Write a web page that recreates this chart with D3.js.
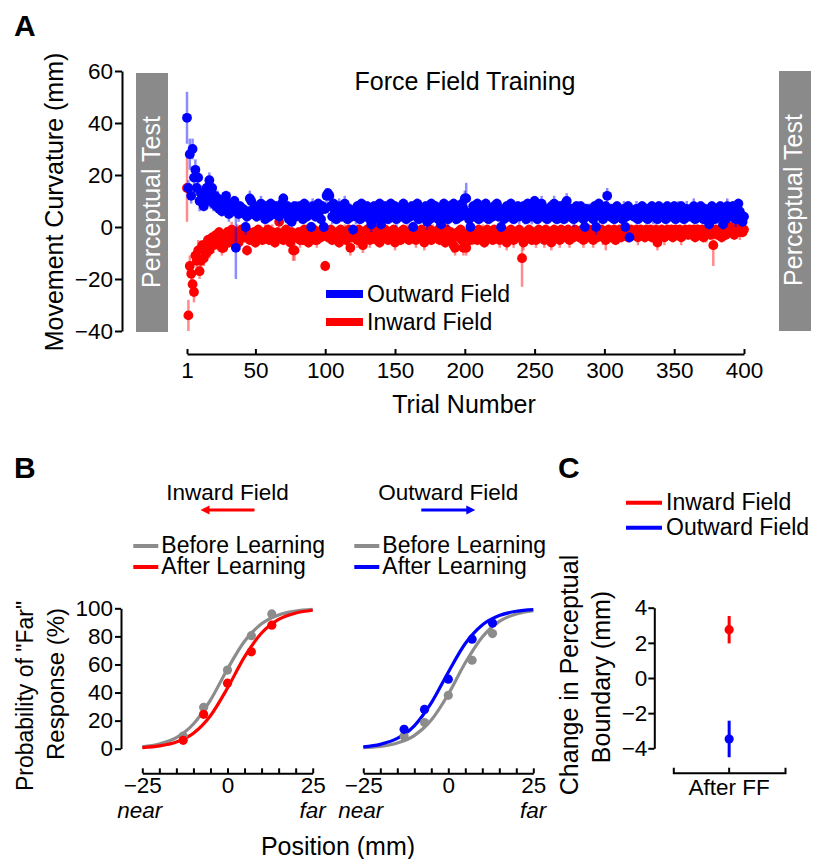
<!DOCTYPE html>
<html>
<head>
<meta charset="utf-8">
<script src="https://cdn.jsdelivr.net/npm/d3@7"></script>
<style>
body { margin: 0; background: #fff; }
svg { display: block; font-family: "Liberation Sans", Arial, sans-serif; }
.axis path, .axis line { stroke: #000; stroke-width: 2; }
.axis text { font-size: 22.5px; fill: #000; font-family: "Liberation Sans", Arial, sans-serif; }
</style>
</head>
<body>
<svg width="820" height="859"></svg>
<script>
// ---- panel A data (trial by trial) ----
let trialTicks = [1, 50, 100, 150, 200, 250, 300, 350, 400]
let curvTicks = [-40, -20, 0, 20, 40, 60]

let outwardCurv = [
  42,15,28,12,30,19,22,15,19,10, 13,11,8,10,15,12,18,10,15,9, 12,8,11,7,9,6,8,10,12,7, 5,9,6,7,10,-8,7,5,8,6,
  7,5,0,4,6,11,10,5,7,6, 4,8,6,9,5,7,3,8,5,4, 9,7,6,5,8,6,4,7,9,11, 6,5,8,3,6,2,5,8,4,7,
  6,8,5,3,9,6,4,7,6,0, 8,5,4,7,9,6,3,8,0,7, 12,13,12,8,4,9,6,3,6,8, 7,4,6,9,5,3,7,6,4,-1,
  6,4,8,5,3,9,7,4,6,8, 5,3,1,6,8,4,6,3,9,1, 6,4,8,5,3,7,9,4,5,8, 3,7,5,4,8,9,6,3,5,7,
  4,8,0,5,7,9,3,6,5,7, 4,8,2,6,3,9,5,4,8,6, 3,5,1,7,9,4,6,3,8,5, 7,9,4,3,8,6,4,9,7,11,
  11,5,3,0,6,8,4,5,9,3, 7,6,4,5,9,7,3,6,5,4, 8,6,9,4,7,0,5,3,6,8, 4,6,9,7,3,5,6,8,4,7,
  5,8,4,3,9,6,7,4,5,10, 6,3,8,5,9,4,6,7,3,5, 7,8,4,9,5,3,6,8,4,6, 3,9,10,6,4,7,5,3,6,8,
  4,6,8,5,3,0,7,5,6,4, 7,3,8,0,6,9,5,4,3,7, 8,12,6,4,7,5,3,6,8,4, 6,5,3,7,0,4,8,-4,5,6,
  4,5,7,3,6,5,8,4,6,7, 3,6,5,8,4,5,7,3,8,6, 5,4,7,3,8,5,6,4,7,8, 3,5,7,4,8,6,3,5,7,4,
  6,4,5,8,3,7,5,4,8,6, 3,7,5,4,1,6,8,5,3,6, 7,4,8,5,1,6,3,8,5,7, 4,8,6,3,5,9,6,4,2,4
]
let outwardErr = [
  10,3,6,3,4,3,4,3,3,4, 3,3,2,3,3,4,3,3,2,3, 3,2,3,2,3,2,3,3,2,2, 3,2,2,3,2,12,2,3,2,2,
  2,2,3,2,2,3,2,2,2,3, 2,2,2,3,2,2,2,2,3,2, 2,3,2,2,2,2,3,2,2,2, 3,2,2,2,3,2,2,2,2,3,
  2,2,3,2,2,2,2,3,2,2, 3,2,2,2,2,3,2,2,2,2, 3,2,2,2,3,2,2,2,2,3, 2,2,2,3,2,2,2,3,2,2,
  2,3,2,2,2,2,3,2,2,2, 2,2,3,2,2,2,2,3,2,2, 2,3,2,2,2,3,2,2,2,2, 3,2,2,2,2,2,3,2,2,2,
  2,2,2,3,2,2,2,2,3,2, 2,2,3,2,2,2,3,2,2,2, 2,3,2,2,2,2,2,3,2,2, 2,2,3,2,2,2,2,2,3,3,
  6,2,2,2,3,2,2,2,2,2, 3,2,2,2,2,3,2,2,2,2, 2,3,2,2,2,2,3,2,2,2, 2,2,2,3,2,2,2,2,3,2,
  2,2,3,2,2,2,2,3,2,2, 2,2,2,2,3,2,2,2,2,3, 2,2,2,3,2,2,2,2,2,3, 2,2,3,2,2,2,2,3,2,2,
  2,3,2,2,2,2,2,2,3,2, 2,2,2,3,2,2,3,2,2,2, 2,3,2,2,2,2,2,3,2,2, 2,2,2,3,2,2,2,2,2,2,
  2,2,3,2,2,2,2,2,3,2, 2,2,2,2,3,2,2,2,2,2, 3,2,2,2,2,2,3,2,2,2, 2,2,3,2,2,2,2,2,3,2,
  2,2,2,3,2,2,2,2,2,3, 2,2,2,2,2,3,2,2,2,2, 2,3,2,2,2,2,2,3,2,2, 2,2,2,3,2,2,2,2,2,2
]
let inwardCurv = [
  15,-34,-15,-18,-22,-25,-11,-13,-9,-17, -13,-7,-12,-8,-10,-5,-9,-6,-4,-7, -5,-3,-6,-2,-4,-8,-8,-5,-3,-2, -6,-4,-1,-3,-5,-4,-2,-6,-3,-1,
  -1,-4,-3,-9,-2,-5,-3,-4,-2,-6, -3,-1,-4,-2,-5,-3,-2,-4,-1,-5, -3,-2,-4,-6,-3,-2,2,-4,-3,-5, -2,-1,-4,-3,-6,-2,-9,-9,-4,-3,
  -2,-5,-3,-5,-1,-4,-2,-6,-3,-2, -4,-1,-5,-5,-3,-2,-4,-1,-3,-15, -2,-4,-3,-1,-5,-2,-3,-4,-2,-6, -1,-3,-4,-2,-5,-3,-1,-8,-4,-2,
  -3,-2,-5,-1,-4,-3,-7,-2,-4,-1, -3,-5,-2,-4,-3,-1,-5,-2,-6,-3, -2,-4,-1,-3,-5,-2,-4,-3,-1,-6, -2,-4,-3,-5,-2,-1,-4,-3,-2,-5,
  -3,-1,-4,-2,-5,-3,-2,-4,-1,-3, -6,-2,-4,-3,-1,-5,-2,-3,-4,-2, -1,-5,-3,-2,-4,-6,-1,-3,-5,-2, -4,-7,-8,-3,-2,-4,-1,-5,-8,-3,
  -8,-3,-2,-5,-1,-4,-3,-2,-5,-1, -3,-4,-2,-6,-3,-1,-4,-2,-3,-5, -1,-4,-2,-3,-5,-2,-1,-4,-3,-6, -2,-3,-1,-4,-5,-2,-3,-4,-1,-2,
  -12,-6,-3,-2,-4,-1,-3,-5,-2,-4, -5,-3,-1,-2,-4,-3,-5,-1,-2,-4, -3,-6,-2,-1,-3,-4,-2,-5,-1,-3, -2,-4,-3,-1,-5,-2,-3,-4,-1,-2,
  -3,-4,-2,-1,-5,-3,-2,-4,-1,-3, -2,-5,-3,-1,-4,-2,-3,-1,-4,-2, -5,-3,-1,-2,-4,-3,-1,-5,-2,-3, -1,-4,-2,-3,-1,-2,-4,-3,-1,-2,
  -2,-3,-1,-4,-2,-1,-3,-2,-4,-1, -3,-2,-1,-4,-2,-3,-1,-6,-2,-3, -1,-2,-4,-3,-1,-2,-3,-1,-4,-2, -1,-3,-2,-1,-4,-2,-3,-1,-2,-3,
  -1,-2,-3,-1,-4,-2,-1,-3,-2,-1, -4,-2,-3,-1,-2,-3,-1,-7,-2,-1, -3,-2,-1,-4,-2,-1,-3,-2,-1,0, -2,-1,-3,-2,-1,0,-2,-1,-2,-1
]
let inwardErr = [
  13,6,4,4,3,4,3,3,4,3, 3,2,3,2,3,2,3,2,2,3, 2,2,3,2,2,3,2,2,3,2, 2,2,3,2,2,2,3,2,2,2,
  2,2,3,2,2,2,2,3,2,2, 3,2,2,2,2,2,3,2,2,2, 2,3,2,2,2,2,2,2,3,2, 2,2,3,2,2,2,4,4,2,2,
  2,3,2,2,2,2,3,2,2,2, 2,2,2,3,2,2,2,2,2,2, 2,2,3,2,2,2,2,3,2,2, 2,2,2,3,2,2,2,3,2,2,
  2,2,3,2,2,2,3,2,2,2, 2,3,2,2,2,2,2,3,2,2, 2,2,2,3,2,2,2,2,2,3, 2,2,3,2,2,2,2,2,3,2,
  2,2,2,2,3,2,2,2,2,2, 3,2,2,2,2,2,3,2,2,2, 2,2,3,2,2,2,3,2,2,2, 2,3,3,2,2,2,2,2,3,2,
  3,2,2,2,2,3,2,2,2,2, 2,2,3,2,2,2,2,2,3,2, 2,2,2,2,3,2,2,2,2,3, 2,2,2,2,3,2,2,2,2,2,
  11,3,2,2,2,2,3,2,2,2, 3,2,2,2,2,2,3,2,2,2, 2,3,2,2,2,2,2,3,2,2, 2,2,2,2,3,2,2,2,2,2,
  2,2,2,2,3,2,2,2,2,2, 2,3,2,2,2,2,2,2,3,2, 4,2,2,2,2,3,2,2,2,2, 2,2,3,2,2,2,2,2,2,2,
  2,2,2,3,2,2,2,2,2,2, 2,2,2,2,2,2,2,3,2,2, 2,2,3,2,2,2,2,2,2,2, 2,2,2,2,3,2,2,2,2,2,
  2,2,2,2,2,3,2,2,2,2, 2,2,3,2,2,2,2,8,2,2, 2,2,2,2,3,2,2,2,2,2, 2,2,2,2,2,2,3,2,2,2
]

// ---- panel B data ----
let posTicks = [-25, -20, -15, -10, -5, 0, 5, 10, 15, 20, 25]
let posLabelled = [-25, 0, 25]
let probTicks = [0, 20, 40, 60, 80, 100]
let stimPos = [-13, -7, 0, 7, 13]
let inBefore = [9, 29.5, 56, 80.5, 96]
let inAfter = [6, 24.5, 46.7, 69, 88]
let outBefore = [9, 18.6, 38, 63, 82]
let outAfter = [13.8, 28, 49.5, 78, 89.5]
// fitted psychometric curves, read at every tick position
let inBeforeFit = [1.4, 3.4, 7.9, 17.6, 34.6, 56.8, 76.5, 89.0, 95.3, 98.0, 99.2]
let inAfterFit = [0.8, 2.0, 4.7, 11.0, 23.5, 43.2, 65.4, 82.4, 92.1, 96.6, 98.6]
let outBeforeFit = [0.7, 1.6, 4.0, 9.3, 20.4, 38.8, 61.2, 79.6, 90.7, 96.0, 98.4]
let outAfterFit = [1.3, 3.1, 7.3, 16.3, 32.6, 54.5, 74.9, 88.1, 94.8, 97.9, 99.1]

// ---- panel C data ----
let fieldNames = ["Inward Field", "Outward Field"]
let boundaryShift = [2.75, -3.47]
let boundaryErr = [0.78, 1.04]
let boundaryTicks = [-4, -2, 0, 2, 4]
let conditions = ["After FF"]

let RED = "#ff0000", BLUE = "#0000ff", GRAY = "#8c8c8c"
let svg = d3.select("svg")

let addText = (x, y, txt, opts = {}) => {
  let t = svg.append("text").attr("x", x).attr("y", y).text(txt)
    .attr("font-size", opts.size || 22.5)
    .attr("text-anchor", opts.anchor || "start")
    .attr("fill", opts.fill || "#000")
  if (opts.weight) t.attr("font-weight", opts.weight)
  if (opts.italic) t.attr("font-style", "italic")
  if (opts.rotate) t.attr("transform", `rotate(-90, ${x}, ${y})`)
  return t
}

// ================= PANEL A =================
let xA = d3.scaleLinear().domain([1, 400]).range([187, 744])
let yA = d3.scaleLinear().domain([-40, 60]).range([331, 71])

addText(14, 36, "A", { size: 30, weight: "bold" })

// perceptual test boxes
svg.append("rect").attr("x", 136).attr("y", 73).attr("width", 32).attr("height", 259).attr("fill", "#8a8a8a")
svg.append("rect").attr("x", 779).attr("y", 71).attr("width", 32).attr("height", 260).attr("fill", "#8a8a8a")
addText(160, 202, "Perceptual Test", { size: 25, anchor: "middle", fill: "#fff", rotate: true })
addText(802, 200, "Perceptual Test", { size: 25, anchor: "middle", fill: "#fff", rotate: true })

svg.append("g").attr("class", "axis")
  .attr("transform", "translate(122,0)")
  .call(d3.axisLeft(yA).tickValues(curvTicks).tickSizeInner(7).tickSizeOuter(0).tickPadding(2))

svg.append("g").attr("class", "axis")
  .attr("transform", "translate(0,354)")
  .call(d3.axisBottom(xA).tickValues(trialTicks).tickSizeInner(-5).tickSizeOuter(0).tickPadding(8))

let drawSeries = (vals, errs, color) => {
  let g = svg.append("g")
  g.selectAll("line").data(vals).join("line")
    .attr("x1", (d, i) => xA(i + 1)).attr("x2", (d, i) => xA(i + 1))
    .attr("y1", (d, i) => yA(d - errs[i])).attr("y2", (d, i) => yA(d + errs[i]))
    .attr("stroke", color).attr("stroke-opacity", 0.45).attr("stroke-width", 2.5)
  g.selectAll("circle").data(vals).join("circle")
    .attr("cx", (d, i) => xA(i + 1)).attr("cy", d => yA(d))
    .attr("r", 4.9).attr("fill", color)
}
drawSeries(inwardCurv, inwardErr, RED)
drawSeries(outwardCurv, outwardErr, BLUE)

addText(465, 90, "Force Field Training", { size: 25, anchor: "middle" })
addText(464, 413, "Trial Number", { size: 25, anchor: "middle" })
addText(63, 202, "Movement Curvature (mm)", { size: 25, anchor: "middle", rotate: true })

// legend A
let legA = [["Outward Field", BLUE, 294], ["Inward Field", RED, 322]]
legA.forEach(([name, c, y]) => {
  svg.append("line").attr("x1", 326).attr("x2", 363).attr("y1", y).attr("y2", y)
    .attr("stroke", c).attr("stroke-width", 8)
  addText(367, y + 8, name, { size: 23 })
})

// ================= PANEL B =================
addText(14, 478, "B", { size: 30, weight: "bold" })
let yB = d3.scaleLinear().domain([0, 100]).range([748.7, 608.3])
let xB1 = d3.scaleLinear().domain([-25, 25]).range([142.3, 312.7])
let xB2 = d3.scaleLinear().domain([-25, 25]).range([363.3, 533.3])

svg.append("g").attr("class", "axis")
  .attr("transform", "translate(121,0)")
  .call(d3.axisLeft(yB).tickValues(probTicks).tickSizeInner(6).tickSizeOuter(0).tickPadding(2))

let fmtPos = d => posLabelled.includes(d) ? d3.format("d")(d) : ""
let line = d3.line().curve(d3.curveMonotoneX)

let drawPsych = (xs, before, after, beforeFit, afterFit, color, title, arrowDir) => {
  svg.append("g").attr("class", "axis")
    .attr("transform", "translate(0,773.3)")
    .call(d3.axisBottom(xs).tickValues(posTicks).tickFormat(fmtPos).tickSizeInner(-5).tickSizeOuter(0).tickPadding(4))
  let [x0, x1] = xs.range()
  addText(x0 - 25, 818, "near", { italic: true })
  addText(x1 + 13, 818, "far", { italic: true, anchor: "end" })

  svg.append("path").attr("d", line(posTicks.map((p, i) => [xs(p), yB(beforeFit[i])])))
    .attr("fill", "none").attr("stroke", GRAY).attr("stroke-width", 3.2)
  svg.append("path").attr("d", line(posTicks.map((p, i) => [xs(p), yB(afterFit[i])])))
    .attr("fill", "none").attr("stroke", color).attr("stroke-width", 3.2)
  svg.append("g").selectAll("circle").data(before).join("circle")
    .attr("cx", (d, i) => xs(stimPos[i])).attr("cy", d => yB(d)).attr("r", 4.6).attr("fill", GRAY)
  svg.append("g").selectAll("circle").data(after).join("circle")
    .attr("cx", (d, i) => xs(stimPos[i])).attr("cy", d => yB(d)).attr("r", 4.6).attr("fill", color)

  let cx = xs(0)
  addText(cx, 500, title, { anchor: "middle" })
  // force direction arrow
  let a0 = cx + 27 * -arrowDir, a1 = cx + 22 * arrowDir
  svg.append("line").attr("x1", a0).attr("x2", a1).attr("y1", 510).attr("y2", 510)
    .attr("stroke", color).attr("stroke-width", 3)
  svg.append("path")
    .attr("d", `M${a1 + 5 * arrowDir},510 L${a1 - 4 * arrowDir},505.5 L${a1 - 4 * arrowDir},514.5 Z`)
    .attr("fill", color)

  // legend
  let lx = x0 - 9
  ;[["Before Learning", GRAY, 546], ["After Learning", color, 567]].forEach(([n, c, y]) => {
    svg.append("line").attr("x1", lx).attr("x2", lx + 25).attr("y1", y).attr("y2", y)
      .attr("stroke", c).attr("stroke-width", 4)
    addText(lx + 28, y + 7, n, { size: 23 })
  })
}
drawPsych(xB1, inBefore, inAfter, inBeforeFit, inAfterFit, RED, "Inward Field", -1)
drawPsych(xB2, outBefore, outAfter, outBeforeFit, outAfterFit, BLUE, "Outward Field", 1)

addText(33, 696, "Probability of \"Far\"", { size: 23, anchor: "middle", rotate: true })
addText(64, 684, "Response (%)", { size: 24, anchor: "middle", rotate: true })
addText(338, 855, "Position (mm)", { size: 25, anchor: "middle" })

// ================= PANEL C =================
addText(558, 478, "C", { size: 30, weight: "bold" })
let yC = d3.scaleLinear().domain([-4, 4]).range([748.3, 607.7])
let xC = d3.scaleBand().domain(conditions).range([673.3, 785])

svg.append("g").attr("class", "axis")
  .attr("transform", "translate(654.3,0)")
  .call(d3.axisLeft(yC).tickValues(boundaryTicks).tickSizeInner(6).tickSizeOuter(0).tickPadding(1))
svg.append("g").attr("class", "axis")
  .attr("transform", "translate(0,772.7)")
  .call(d3.axisBottom(xC).tickSizeInner(-5).tickSizeOuter(-5).tickPadding(6))

let cxC = xC("After FF") + xC.bandwidth() / 2
let colorsC = [RED, BLUE]
boundaryShift.forEach((v, i) => {
  svg.append("line").attr("x1", cxC).attr("x2", cxC)
    .attr("y1", yC(v - boundaryErr[i])).attr("y2", yC(v + boundaryErr[i]))
    .attr("stroke", colorsC[i]).attr("stroke-width", 3)
  svg.append("circle").attr("cx", cxC).attr("cy", yC(v)).attr("r", 4.6).attr("fill", colorsC[i])
})

fieldNames.forEach((n, i) => {
  let y = 502.7 + i * 25
  svg.append("line").attr("x1", 626).attr("x2", 662).attr("y1", y).attr("y2", y)
    .attr("stroke", colorsC[i]).attr("stroke-width", 4)
  addText(666, y + 7.5, n, { size: 23 })
})

addText(578, 675, "Change in Perceptual", { size: 25, anchor: "middle", rotate: true })
addText(610, 677, "Boundary (mm)", { size: 25, anchor: "middle", rotate: true })
</script>
</body>
</html>
